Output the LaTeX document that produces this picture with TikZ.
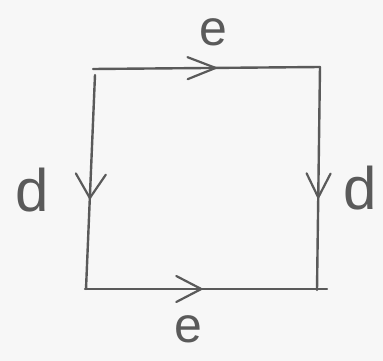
\documentclass[tikz,border=0pt]{standalone}
\usepackage{fontspec}
\setmainfont{Liberation Sans}
\usetikzlibrary{arrows.meta,decorations.markings}
\definecolor{pen}{HTML}{5A5A5A}
\definecolor{paper}{HTML}{F7F7F7}
\begin{document}
\begin{tikzpicture}[x=1pt,y=-1pt,
  edge/.style={draw=pen,line width=2.4pt,line cap=round},
  midarrow/.style n args={3}{postaction={decorate},decoration={markings,
     mark=at position #1 with {\arrow[pen,line width=2.2pt]{Straight Barb[length=#2pt,width=#3pt,round]}}}},
  lbl/.style={text=pen,inner sep=0pt},
  elbl/.style={lbl,font=\fontsize{50}{50}\selectfont},
  dlbl/.style={lbl,font=\fontsize{60}{60}\selectfont}]
\fill[paper] (0,0) rectangle (383,361);
\useasboundingbox (0,0) rectangle (383,361);
\coordinate (tl) at (93,69);
\coordinate (tr) at (320,67);
\coordinate (rb) at (317,290);
\coordinate (bl) at (85,289);
\coordinate (br) at (327,289);
\coordinate (lt) at (95,75);
\coordinate (lb) at (86,289);
\draw[edge,midarrow={0.545}{28}{22}] (tl) -- (tr);
\draw[edge,midarrow={0.59}{24}{24}] (tr) -- (rb);
\draw[edge,midarrow={0.485}{25}{26}] (bl) -- (br);
\draw[edge,midarrow={0.58}{24}{30}] (lt) -- (lb);
\node[elbl] (et) at (213,32) {e};
\node[elbl] (eb) at (188,329) {e};
\node[dlbl] (dl) at (32,190) {d};
\node[dlbl] (dr) at (360,188) {d};
\end{tikzpicture}
\end{document}
